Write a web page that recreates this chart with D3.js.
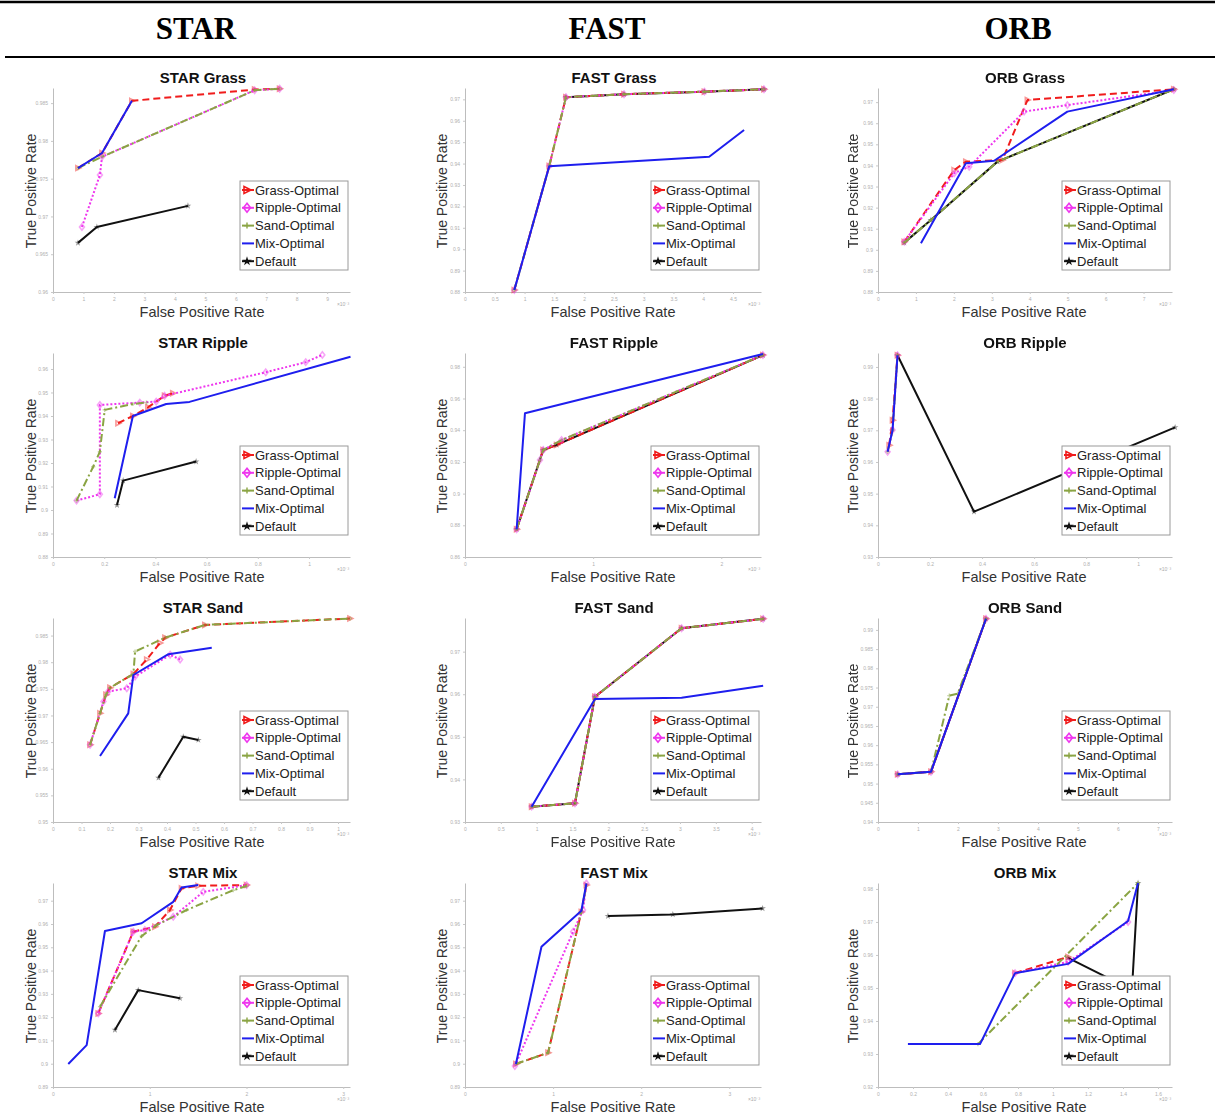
<!DOCTYPE html>
<html>
<head>
<meta charset="utf-8">
<script src="https://cdn.jsdelivr.net/npm/d3@7"></script>
<style>
  body { margin: 0; background: #fff; }
  svg { display: block; }
</style>
</head>
<body>
<div id="chart"></div>
<script>
// column headers and panel grid
const detectors = ["STAR", "FAST", "ORB"];
const terrains = ["Grass", "Ripple", "Sand", "Mix"];
const seriesNames = ["Grass-Optimal", "Ripple-Optimal", "Sand-Optimal", "Mix-Optimal", "Default"];

// one small set of arrays per panel (x: FPR x1e-3, y: TPR)
const STAR_GRASS = {
  x: [0, 9.75], xTicks: [0, 1, 2, 3, 4, 5, 6, 7, 8, 9],
  y: [0.96, 0.987], yTicks: [0.96, 0.965, 0.97, 0.975, 0.98, 0.985],
  grass: [[0.82, 0.9764], [1.61, 0.9784], [2.59, 0.9853], [6.62, 0.9868], [7.44, 0.9869]],
  ripple: [[0.95, 0.9686], [1.54, 0.9755], [1.61, 0.9779], [6.62, 0.9867], [7.44, 0.9869]],
  sand: [[0.82, 0.9764], [1.61, 0.9779], [6.62, 0.9867], [7.44, 0.9869]],
  mix: [[0.82, 0.9764], [1.61, 0.9784], [2.59, 0.9853]],
  def: [[0.82, 0.9665], [1.44, 0.9686], [4.43, 0.9714]]
};
const STAR_RIPPLE = {
  x: [0, 1.16], xTicks: [0, 0.2, 0.4, 0.6, 0.8, 1],
  y: [0.88, 0.9668], yTicks: [0.88, 0.89, 0.9, 0.91, 0.92, 0.93, 0.94, 0.95, 0.96],
  grass: [[0.254, 0.9369], [0.312, 0.94], [0.371, 0.9437], [0.436, 0.9486], [0.468, 0.9497]],
  ripple: [[0.092, 0.904], [0.183, 0.9067], [0.183, 0.9447], [0.339, 0.9457], [0.403, 0.9461], [0.436, 0.9486], [0.831, 0.9586], [0.987, 0.9629], [1.052, 0.966]],
  sand: [[0.092, 0.904], [0.157, 0.9184], [0.183, 0.9248], [0.202, 0.9426], [0.312, 0.9451], [0.365, 0.9457]],
  mix: [[0.241, 0.905], [0.312, 0.94], [0.442, 0.9451], [0.533, 0.946], [1.162, 0.9652]],
  def: [[0.25, 0.9021], [0.274, 0.9125], [0.559, 0.9206]]
};
const STAR_SAND = {
  x: [0, 1.042], xTicks: [0, 0.1, 0.2, 0.3, 0.4, 0.5, 0.6, 0.7, 0.8, 0.9, 1],
  y: [0.95, 0.9883], yTicks: [0.95, 0.955, 0.96, 0.965, 0.97, 0.975, 0.98, 0.985],
  grass: [[0.13, 0.9645], [0.165, 0.9704], [0.186, 0.9739], [0.2, 0.9752], [0.282, 0.9778], [0.329, 0.9805], [0.375, 0.9836], [0.393, 0.9846], [0.533, 0.987], [1.042, 0.9882]],
  ripple: [[0.13, 0.9645], [0.177, 0.9726], [0.194, 0.9745], [0.259, 0.9751], [0.288, 0.9773], [0.411, 0.9814], [0.446, 0.9805]],
  sand: [[0.13, 0.9645], [0.165, 0.9704], [0.186, 0.9739], [0.2, 0.9752], [0.282, 0.9778], [0.288, 0.982], [0.393, 0.9846], [0.533, 0.987], [1.042, 0.9882]],
  mix: [[0.165, 0.9624], [0.264, 0.9704], [0.282, 0.9776], [0.405, 0.9815], [0.557, 0.9827]],
  def: [[0.37, 0.9583], [0.457, 0.966], [0.51, 0.9654]]
};
const STAR_MIX = {
  x: [0, 3.07], xTicks: [0, 1, 2, 3],
  y: [0.89, 0.9776], yTicks: [0.89, 0.9, 0.91, 0.92, 0.93, 0.94, 0.95, 0.96, 0.97],
  grass: [[0.468, 0.9216], [0.83, 0.9567], [1.054, 0.9588], [1.209, 0.966], [1.329, 0.9753], [1.501, 0.9764], [2.001, 0.9767]],
  ripple: [[0.468, 0.9216], [0.83, 0.9567], [0.95, 0.9574], [1.243, 0.9631], [1.553, 0.9738], [2.001, 0.9767]],
  sand: [[0.486, 0.9245], [0.916, 0.9548], [1.071, 0.9595], [1.381, 0.966], [1.863, 0.9745], [2.001, 0.9763]],
  mix: [[0.158, 0.8999], [0.348, 0.908], [0.537, 0.957], [0.916, 0.9603], [1.243, 0.9695], [1.329, 0.9757], [1.501, 0.9767]],
  def: [[0.64, 0.9145], [0.881, 0.9316], [1.312, 0.9281]]
};
const FAST_GRASS = {
  x: [0, 4.97], xTicks: [0, 0.5, 1, 1.5, 2, 2.5, 3, 3.5, 4, 4.5],
  y: [0.88, 0.9753], yTicks: [0.88, 0.89, 0.9, 0.91, 0.92, 0.93, 0.94, 0.95, 0.96, 0.97],
  grass: [[0.828, 0.8809], [1.415, 0.9389], [1.695, 0.971], [2.67, 0.9724], [4.02, 0.9736], [5.02, 0.9747]],
  ripple: [[0.828, 0.8809], [1.415, 0.9389], [1.695, 0.971], [2.67, 0.9724], [4.02, 0.9736], [5.02, 0.9747]],
  sand: [[0.828, 0.8809], [1.415, 0.9389], [1.695, 0.971], [2.67, 0.9724], [4.02, 0.9736], [5.02, 0.9747]],
  mix: [[0.828, 0.8809], [1.415, 0.9388], [4.1, 0.9432], [4.686, 0.9557]],
  def: [[1.695, 0.971], [2.67, 0.9724], [4.02, 0.9736], [5.02, 0.9747]]
};
const FAST_RIPPLE = {
  x: [0, 2.31], xTicks: [0, 1, 2],
  y: [0.86, 0.9887], yTicks: [0.86, 0.88, 0.9, 0.92, 0.94, 0.96, 0.98],
  grass: [[0.403, 0.8775], [0.61, 0.9275], [0.715, 0.9307], [2.325, 0.9874]],
  ripple: [[0.403, 0.8775], [0.585, 0.9212], [0.61, 0.9275], [0.754, 0.9338], [2.325, 0.9874]],
  sand: [[0.403, 0.8775], [0.585, 0.9212], [0.61, 0.9275], [0.754, 0.9338], [2.325, 0.9874]],
  mix: [[0.403, 0.8775], [0.468, 0.9507], [2.325, 0.9881]],
  def: [[0.403, 0.8775], [0.61, 0.9275], [0.715, 0.9307], [2.325, 0.9874]]
};
const FAST_SAND = {
  x: [0, 4.13], xTicks: [0, 0.5, 1, 1.5, 2, 2.5, 3, 3.5, 4],
  y: [0.93, 0.9779], yTicks: [0.93, 0.94, 0.95, 0.96, 0.97],
  grass: [[0.93, 0.9336], [1.534, 0.9344], [1.813, 0.9594], [3.022, 0.9755], [4.16, 0.9777]],
  ripple: [[0.93, 0.9336], [1.534, 0.9344], [1.813, 0.9594], [3.022, 0.9755], [4.16, 0.9777]],
  sand: [[0.93, 0.9336], [1.534, 0.9344], [1.813, 0.9594], [3.022, 0.9755], [4.16, 0.9777]],
  mix: [[0.93, 0.9336], [1.813, 0.9589], [3.022, 0.9592], [4.16, 0.962]],
  def: [[0.93, 0.9336], [1.534, 0.9344], [1.813, 0.9594], [3.022, 0.9755], [4.16, 0.9777]]
};
const FAST_MIX = {
  x: [0, 3.36], xTicks: [0, 1, 2, 3],
  y: [0.89, 0.9776], yTicks: [0.89, 0.9, 0.91, 0.92, 0.93, 0.94, 0.95, 0.96, 0.97],
  grass: [[0.578, 0.8999], [0.943, 0.9047], [1.321, 0.9652], [1.378, 0.9767]],
  ripple: [[0.566, 0.899], [1.227, 0.9567], [1.34, 0.966], [1.378, 0.9774]],
  sand: [[0.578, 0.8999], [0.943, 0.9047], [1.321, 0.9652], [1.378, 0.9767]],
  mix: [[0.578, 0.8999], [0.868, 0.9502], [1.321, 0.9657], [1.378, 0.9774]],
  def: [[1.623, 0.9634], [2.359, 0.9641], [3.378, 0.9667]]
};
const ORB_GRASS = {
  x: [0, 7.75], xTicks: [0, 1, 2, 3, 4, 5, 6, 7],
  y: [0.88, 0.9767], yTicks: [0.88, 0.89, 0.9, 0.91, 0.92, 0.93, 0.94, 0.95, 0.96, 0.97],
  grass: [[0.693, 0.9038], [2.008, 0.9378], [2.316, 0.9418], [3.281, 0.9426], [3.939, 0.971], [7.798, 0.9761]],
  ripple: [[0.693, 0.9038], [2.008, 0.9363], [2.403, 0.9394], [3.851, 0.9655], [4.991, 0.9686], [7.798, 0.9757]],
  sand: [[0.693, 0.9034], [1.395, 0.9141], [3.149, 0.9418], [7.798, 0.9761]],
  mix: [[1.132, 0.9031], [2.316, 0.941], [3.061, 0.9422], [4.991, 0.9655], [7.798, 0.9761]],
  def: [[0.693, 0.9034], [1.395, 0.9141], [3.149, 0.9418], [7.798, 0.9761]]
};
const ORB_RIPPLE = {
  x: [0, 1.13], xTicks: [0, 0.2, 0.4, 0.6, 0.8, 1],
  y: [0.93, 0.9944], yTicks: [0.93, 0.94, 0.95, 0.96, 0.97, 0.98, 0.99],
  grass: [[0.043, 0.9653], [0.056, 0.9732], [0.075, 0.9937]],
  ripple: [[0.037, 0.9632], [0.056, 0.9701], [0.075, 0.9937]],
  sand: [[0.037, 0.9632], [0.056, 0.9701], [0.075, 0.9937]],
  mix: [[0.037, 0.9632], [0.056, 0.9701], [0.075, 0.9937]],
  def: [[0.075, 0.9937], [0.369, 0.9443], [1.142, 0.9709]]
};
const ORB_SAND = {
  x: [0, 7.35], xTicks: [0, 1, 2, 3, 4, 5, 6, 7],
  y: [0.94, 0.9931], yTicks: [0.94, 0.945, 0.95, 0.955, 0.96, 0.965, 0.97, 0.975, 0.98, 0.985, 0.99],
  grass: [[0.492, 0.9524], [1.325, 0.9531], [2.7, 0.9929]],
  ripple: [[0.492, 0.9524], [1.325, 0.9531], [2.7, 0.9929]],
  sand: [[0.492, 0.9524], [1.325, 0.9531], [1.783, 0.9729], [1.992, 0.9734], [2.7, 0.9929]],
  mix: [[0.492, 0.9524], [1.325, 0.9531], [2.7, 0.9929]],
  def: [[0.492, 0.9524], [1.325, 0.9531], [2.7, 0.9929]]
};
const ORB_MIX = {
  x: [0, 1.68], xTicks: [0, 0.2, 0.4, 0.6, 0.8, 1, 1.2, 1.4, 1.6],
  y: [0.92, 0.9818], yTicks: [0.92, 0.93, 0.94, 0.95, 0.96, 0.97, 0.98],
  grass: [[0.783, 0.9545], [1.086, 0.9594]],
  ripple: [[0.783, 0.9545], [1.086, 0.9579], [1.429, 0.97]],
  sand: [[0.571, 0.933], [1.486, 0.9818]],
  mix: [[0.171, 0.933], [0.583, 0.933], [0.783, 0.9545], [1.086, 0.9573], [1.429, 0.9703], [1.486, 0.9818]],
  def: [[1.086, 0.9591], [1.451, 0.9494], [1.486, 0.9818]]
};

const panels = [
  [STAR_GRASS, FAST_GRASS, ORB_GRASS],
  [STAR_RIPPLE, FAST_RIPPLE, ORB_RIPPLE],
  [STAR_SAND, FAST_SAND, ORB_SAND],
  [STAR_MIX, FAST_MIX, ORB_MIX]
];

// series styles, drawn bottom to top
const styles = [
  { key: "def", color: "#111", dash: null, marker: "star" },
  { key: "grass", color: "#f01c1c", dash: "7,4", marker: "tri" },
  { key: "ripple", color: "#ee36ee", dash: "2,2", marker: "dia" },
  { key: "sand", color: "#8aa443", dash: "8,3,2,3", marker: "plus" },
  { key: "mix", color: "#1e1eee", dash: null, marker: null }
];
const legendOrder = ["grass", "ripple", "sand", "mix", "def"];

const width = 1215, height = 1119;
const colX = [0, 411, 822], rowY = [0, 265, 530, 795];
const plotLeft = [53, 54, 56], plotRight = 350, plotTop = 88, plotBottom = 292;

const svg = d3.select("#chart").append("svg")
  .attr("width", width)
  .attr("height", height);

svg.append("rect").attr("width", width).attr("height", height).attr("fill", "#fff");

// header rules and column titles
svg.append("line").attr("x1", 0).attr("x2", width).attr("y1", 2).attr("y2", 2)
  .attr("stroke", "#000").attr("stroke-width", 2.5);
svg.append("line").attr("x1", 5).attr("x2", width).attr("y1", 57).attr("y2", 57)
  .attr("stroke", "#000").attr("stroke-width", 1.8);
svg.selectAll(".head")
  .data(detectors)
  .enter()
  .append("text")
  .attr("class", "head")
  .attr("x", (d, i) => [196, 607, 1018][i])
  .attr("y", 39)
  .attr("text-anchor", "middle")
  .style("font-family", "'Liberation Serif', 'Times New Roman', serif")
  .style("font-weight", "bold")
  .style("font-size", "31px")
  .text(d => d);

function markerPath(g, type, color, cx, cy, k) {
  if (type === "tri") {
    g.append("path").attr("d", `M${cx - 3 * k},${cy - 3.5 * k}L${cx + 4 * k},${cy}L${cx - 3 * k},${cy + 3.5 * k}Z`)
      .attr("fill", "none").attr("stroke", color).attr("stroke-width", 1.6);
  } else if (type === "dia") {
    g.append("path").attr("d", `M${cx},${cy - 4.5 * k}L${cx + 3.5 * k},${cy}L${cx},${cy + 4.5 * k}L${cx - 3.5 * k},${cy}Z`)
      .attr("fill", "none").attr("stroke", color).attr("stroke-width", 1.6);
  } else if (type === "plus") {
    g.append("path").attr("d", `M${cx - 3 * k},${cy}H${cx + 3 * k}M${cx},${cy - 3 * k}V${cy + 3 * k}`)
      .attr("stroke", color).attr("stroke-width", 1.4);
  } else if (type === "star") {
    g.append("path").attr("d", d3.symbol(d3.symbolStar, 28 * k * k)())
      .attr("transform", `translate(${cx},${cy})`)
      .attr("fill", color);
  }
}

function drawPanel(p, col, row) {
  const g = svg.append("g").attr("transform", `translate(${colX[col]},${rowY[row]})`);
  const left = plotLeft[col];

  const x = d3.scaleLinear().domain(p.x).range([left, plotRight]);
  const y = d3.scaleLinear().domain(p.y).range([plotBottom, plotTop]);

  const xAxis = g.append("g")
    .attr("transform", `translate(0,${plotBottom})`)
    .call(d3.axisBottom(x).tickValues(p.xTicks).tickSize(2).tickSizeOuter(0).tickFormat(d3.format("~g")));
  const yAxis = g.append("g")
    .attr("transform", `translate(${left},0)`)
    .call(d3.axisLeft(y).tickValues(p.yTicks).tickSize(2).tickSizeOuter(0).tickFormat(d3.format("~g")));
  [xAxis, yAxis].forEach(a => {
    a.select(".domain").attr("stroke", "#bdbdbd");
    a.selectAll(".tick line").attr("stroke", "#c8c8c8");
    a.selectAll(".tick text").attr("fill", "#b0b0b0").style("font-size", "5px").style("font-family", "Arial, sans-serif");
  });

  g.append("text")
    .attr("x", 343).attr("y", 306)
    .attr("text-anchor", "middle")
    .attr("fill", "#aaa")
    .style("font-size", "5px")
    .style("font-family", "Arial, sans-serif")
    .text("×10⁻³");

  const line = d3.line().x(d => x(d[0])).y(d => y(d[1]));

  styles.forEach(s => {
    const pts = p[s.key];
    g.append("path")
      .datum(pts)
      .attr("d", line)
      .attr("fill", "none")
      .attr("stroke", s.color)
      .attr("stroke-width", 2)
      .attr("stroke-dasharray", s.dash)
      .attr("stroke-linejoin", "round");
    if (s.marker) {
      const mg = g.append("g").attr("opacity", 0.45);
      pts.forEach(d => markerPath(mg, s.marker, s.color, x(d[0]), y(d[1]), 0.7));
    }
  });

  // title and axis labels
  g.append("text")
    .attr("x", 203).attr("y", 83)
    .attr("text-anchor", "middle")
    .style("font-family", "'Liberation Sans', Arial, sans-serif")
    .style("font-weight", "bold")
    .style("font-size", "15px")
    .attr("fill", "#111")
    .text(`${detectors[col]} ${terrains[row]}`);

  g.append("text")
    .attr("transform", `translate(36,191) rotate(-90)`)
    .attr("text-anchor", "middle")
    .style("font-family", "'Liberation Sans', Arial, sans-serif")
    .style("font-size", "14px")
    .attr("fill", "#333")
    .text("True Positive Rate");

  g.append("text")
    .attr("x", 202).attr("y", 317)
    .attr("text-anchor", "middle")
    .style("font-family", "'Liberation Sans', Arial, sans-serif")
    .style("font-size", "14.5px")
    .attr("fill", "#333")
    .text("False Positive Rate");

  // legend box
  const lg = g.append("g").attr("transform", "translate(240,181)");
  lg.append("rect")
    .attr("width", 108).attr("height", 89)
    .attr("fill", "#fff")
    .attr("stroke", "#9a9a9a")
    .attr("stroke-width", 1);
  legendOrder.forEach((k, i) => {
    const s = styles.find(t => t.key === k);
    const cy = 9 + i * 17.8;
    lg.append("line")
      .attr("x1", 2).attr("x2", 14).attr("y1", cy).attr("y2", cy)
      .attr("stroke", s.color).attr("stroke-width", 2);
    if (s.marker) markerPath(lg, s.marker, s.color, 7, cy, 1);
    lg.append("text")
      .attr("x", 15).attr("y", cy + 4.5)
      .style("font-family", "'Liberation Sans', Arial, sans-serif")
      .style("font-size", "13px")
      .attr("fill", "#222")
      .text(seriesNames[i]);
  });
}

panels.forEach((rowPanels, r) => rowPanels.forEach((p, c) => drawPanel(p, c, r)));
</script>
</body>
</html>
